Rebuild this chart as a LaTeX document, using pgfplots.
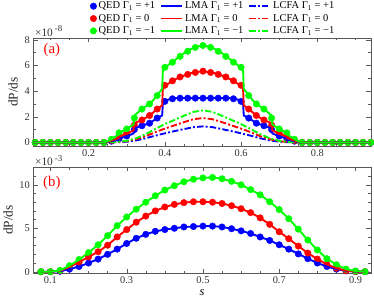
\documentclass[border=0pt]{standalone}
\usepackage{fontspec}
\setmainfont{Liberation Serif}
\usepackage{pgfplots}
\pgfplotsset{compat=1.18}
\usepackage{pgfplotstable}
\definecolor{qblue}{RGB}{0,0,255}
\definecolor{qred}{RGB}{255,0,0}
\definecolor{qgreen}{RGB}{0,255,0}

% ---------------- panel (a) ----------------
\pgfplotstableread{
s g r b
0.06 0 0 0
0.08 0 0 0
0.10 0 0 0
0.12 0 0 0
0.14 0 0 0
0.16 0 0 0
0.18 0 0 0
0.20 0 0 0
0.22 0 0 0
0.24 0 0 0
0.26 0.25 0.15 0.1
0.28 0.75 0.45 0.3
0.30 1.05 0.7 0.5
0.32 1.9 1.35 1.0
0.34 2.6 1.75 1.3
0.36 3.0 2.1 1.5
0.38 3.65 2.6 1.9
0.40 5.85 4.45 3.2
0.42 6.25 4.8 3.4
0.44 6.7 5.1 3.45
0.46 7.1 5.3 3.45
0.48 7.4 5.45 3.45
0.50 7.55 5.55 3.45
0.52 7.4 5.45 3.45
0.54 7.1 5.3 3.45
0.56 6.7 5.1 3.45
0.58 6.25 4.8 3.4
0.60 5.85 4.45 3.2
0.62 3.65 2.6 1.9
0.64 3.0 2.1 1.5
0.66 2.6 1.75 1.3
0.68 1.9 1.35 1.0
0.70 1.05 0.7 0.5
0.72 0.75 0.45 0.3
0.74 0.25 0.15 0.1
0.76 0 0 0
0.78 0 0 0
0.80 0 0 0
0.82 0 0 0
0.84 0 0 0
0.86 0 0 0
0.88 0 0 0
0.90 0 0 0
0.92 0 0 0
0.94 0 0 0
}\qeda

\pgfplotstableread{
s g r b
0.055 0 0 0
0.24 0 0 0
0.25 0.1 0.07 0.05
0.26 0.25 0.15 0.1
0.27 0.45 0.25 0.16
0.278 0.6 0.33 0.22
0.28 0.75 0.45 0.3
0.29 0.9 0.57 0.4
0.30 1.05 0.7 0.5
0.31 1.25 0.83 0.6
0.318 1.4 0.95 0.7
0.32 2.1 1.5 1.1
0.33 2.35 1.62 1.2
0.34 2.6 1.75 1.3
0.35 2.8 1.92 1.4
0.36 3.0 2.1 1.5
0.37 3.3 2.35 1.7
0.38 3.7 2.6 1.9
0.39 4.05 2.82 2.05
0.393 4.2 2.9 2.1
0.395 5.7 4.3 3.1
0.41 6.05 4.6 3.35
0.43 6.5 4.95 3.45
0.45 6.95 5.2 3.45
0.47 7.3 5.4 3.45
0.49 7.5 5.5 3.45
0.50 7.55 5.55 3.45
0.51 7.5 5.5 3.45
0.53 7.3 5.4 3.45
0.55 6.95 5.2 3.45
0.57 6.5 4.95 3.45
0.59 6.05 4.6 3.35
0.605 5.7 4.3 3.1
0.607 4.2 2.9 2.1
0.61 4.05 2.82 2.05
0.62 3.7 2.6 1.9
0.63 3.3 2.35 1.7
0.64 3.0 2.1 1.5
0.65 2.8 1.92 1.4
0.66 2.6 1.75 1.3
0.67 2.35 1.62 1.2
0.68 2.1 1.5 1.1
0.682 1.4 0.95 0.7
0.69 1.25 0.83 0.6
0.70 1.05 0.7 0.5
0.71 0.9 0.57 0.4
0.72 0.75 0.45 0.3
0.722 0.6 0.33 0.22
0.73 0.45 0.25 0.16
0.74 0.25 0.15 0.1
0.75 0.1 0.07 0.05
0.76 0 0 0
0.94 0 0 0
}\lmaa

\pgfplotstableread{
s g r b
0.055 0 0 0
0.25 0 0 0
0.275 0.04 0.03 0.02
0.30 0.13 0.1 0.06
0.325 0.33 0.25 0.16
0.35 0.65 0.49 0.33
0.375 1.05 0.8 0.53
0.40 1.43 1.08 0.71
0.425 1.75 1.33 0.88
0.45 2.08 1.58 1.04
0.475 2.38 1.81 1.19
0.50 2.5 1.9 1.25
0.525 2.38 1.81 1.19
0.55 2.08 1.58 1.04
0.575 1.75 1.33 0.88
0.60 1.43 1.08 0.71
0.625 1.05 0.8 0.53
0.65 0.65 0.49 0.33
0.675 0.33 0.25 0.16
0.70 0.13 0.1 0.06
0.725 0.04 0.03 0.02
0.75 0 0 0
0.94 0 0 0
}\lcfaa

% ---------------- panel (b) ----------------
\pgfplotstableread{
s g r b
0.075 0 0 0
0.100 0 0 0
0.125 0.15 0.1 0.05
0.150 0.7 0.55 0.3
0.175 1.4 1.1 0.6
0.200 2.2 1.7 1.0
0.225 3.1 2.3 1.45
0.250 4.15 3.05 2.0
0.275 5.3 4.0 2.6
0.300 6.3 4.85 3.25
0.325 7.2 5.7 3.85
0.350 8.0 6.4 4.3
0.375 8.75 7.0 4.65
0.400 9.4 7.45 4.85
0.425 9.9 7.75 5.0
0.450 10.35 7.95 5.15
0.475 10.65 8.05 5.2
0.500 10.8 8.05 5.25
0.525 10.85 8.0 5.25
0.550 10.7 7.85 5.15
0.575 10.4 7.6 4.95
0.600 10.0 7.25 4.7
0.625 9.45 6.8 4.4
0.650 8.85 6.2 4.0
0.675 8.05 5.45 3.6
0.700 7.15 4.6 3.1
0.725 6.1 3.8 2.6
0.750 4.9 2.95 2.05
0.775 3.65 2.15 1.5
0.800 2.5 1.45 1.0
0.825 1.5 0.85 0.6
0.850 0.8 0.4 0.3
0.875 0.3 0.12 0.1
0.900 0.08 0.02 0.02
0.925 0 0 0
}\qedb

\pgfplotsset{
  panel/.style={
    scale only axis, width=342pt,
    xmin=0.055, xmax=0.94,
    axis line style={black!65},
    every tick/.style={black!65},
    major tick length=4.5pt, minor tick length=2.5pt,
    tick label style={font=\fontsize{10.5}{12}\selectfont, text=black!80},
    /pgf/number format/assume math mode=true,
    ylabel={dP/ds},
    ylabel style={font=\fontsize{13.5}{14}\selectfont, text=black!85},
    clip mode=individual,
  },
  qed/.style={only marks, mark=*, mark size=3.3pt, mark options={solid}},
  lma/.style={no marks, line width=1.9pt},
  lcfa/.style={no marks, line width=1.9pt, dash pattern=on 6.5pt off 2.2pt on 2pt off 2.2pt},
  qedleg/.style={qed, legend image code/.code={\draw[##1] plot coordinates {(0.3cm,0cm)};}},
  lineleg/.style={legend image code/.code={\draw[##1] plot coordinates {(0cm,0cm) (0.75cm,0cm)};}},
}

\begin{document}
\begin{tikzpicture}
% ---------- top panel (a) ----------
\begin{axis}[panel,
  at={(0,128.4pt)}, anchor=south west,
  height=110pt,
  ymin=-0.3, ymax=8.15,
  xtick={0.2,0.4,0.6,0.8},
  minor xtick={0.1,0.15,0.25,0.3,0.35,0.45,0.5,0.55,0.65,0.7,0.75,0.85,0.9},
  ytick={0,2,4,6,8},
  minor ytick={1,3,5,7},
  xticklabels={0.2,0.4,0.6,0.8},
  yticklabels={0,2,4,6,8},
  legend columns=3,
  legend cell align=left,
  legend style={draw=none, fill=none, at={(0.168,1.0)}, anchor=south west,
    yshift=0.5pt, inner sep=0pt,
    font=\fontsize{10.6}{11}\selectfont,
    /tikz/every even column/.append style={column sep=3pt},
    row sep=0pt},
]
\addplot[qed, qblue, forget plot] table[x=s,y=b] {\qeda};
\addplot[qed, qred, forget plot] table[x=s,y=r] {\qeda};
\addplot[qed, qgreen, forget plot] table[x=s,y=g] {\qeda};
\addplot[lcfa, qblue, forget plot] table[x=s,y=b] {\lcfaa};
\addplot[lcfa, qred, forget plot] table[x=s,y=r] {\lcfaa};
\addplot[lcfa, qgreen, forget plot] table[x=s,y=g] {\lcfaa};
\addplot[lma, qblue, forget plot] table[x=s,y=b] {\lmaa};
\addplot[lma, qred, forget plot] table[x=s,y=r] {\lmaa};
\addplot[lma, qgreen, forget plot] table[x=s,y=g] {\lmaa};

\addlegendimage{qedleg, qblue}
\addlegendentry{QED Γ\textsubscript{1} = +1}
\addlegendimage{lineleg, lma, qblue}
\addlegendentry{LMA Γ\textsubscript{1} = +1}
\addlegendimage{lineleg, lcfa, qblue}
\addlegendentry{LCFA Γ\textsubscript{1} = +1}
\addlegendimage{qedleg, qred}
\addlegendentry{QED Γ\textsubscript{1} = 0}
\addlegendimage{lineleg, lma, qred}
\addlegendentry{LMA Γ\textsubscript{1} = 0}
\addlegendimage{lineleg, lcfa, qred}
\addlegendentry{LCFA Γ\textsubscript{1} = 0}
\addlegendimage{qedleg, qgreen}
\addlegendentry{QED Γ\textsubscript{1} = −1}
\addlegendimage{lineleg, lma, qgreen}
\addlegendentry{LMA Γ\textsubscript{1} = −1}
\addlegendimage{lineleg, lcfa, qgreen}
\addlegendentry{LCFA Γ\textsubscript{1} = −1}

\node[text=qred, font=\fontsize{15}{16}\selectfont] at (rel axis cs:0.055,0.885) {(a)};
\node[anchor=south west, inner sep=0pt, font=\fontsize{11.5}{12}\selectfont, text=black!80] at (rel axis cs:0.005,1.012) {×10\,\raisebox{4.5pt}{\fontsize{9}{10}\selectfont -8}};
\end{axis}

% ---------- bottom panel (b) ----------
\begin{axis}[panel,
  at={(0,0)}, anchor=south west,
  height=107.4pt,
  ymin=-0.15, ymax=12.05,
  xtick={0.1,0.3,0.5,0.7,0.9},
  xticklabels={0.1,0.3,0.5,0.7,0.9},
  minor xtick={0.15,0.2,0.25,0.35,0.4,0.45,0.55,0.6,0.65,0.75,0.8,0.85},
  ytick={0,5,10},
  yticklabels={0,5,10},
  minor ytick={1,2,3,4,6,7,8,9,11},
  xlabel={\textit{s}},
  xlabel style={font=\fontsize{12.5}{13}\selectfont, yshift=1pt},
]
\addplot[qed, qblue] table[x=s,y=b] {\qedb};
\addplot[qed, qred] table[x=s,y=r] {\qedb};
\addplot[qed, qgreen] table[x=s,y=g] {\qedb};
\addplot[lma, qblue] table[x=s,y=b] {\qedb};
\addplot[lma, qred] table[x=s,y=r] {\qedb};
\addplot[lma, qgreen] table[x=s,y=g] {\qedb};
\node[text=qred, font=\fontsize{15}{16}\selectfont] at (rel axis cs:0.055,0.85) {(b)};
\node[anchor=south west, inner sep=0pt, font=\fontsize{11.5}{12}\selectfont, text=black!80] at (rel axis cs:0.005,1.012) {×10\,\raisebox{4.5pt}{\fontsize{9}{10}\selectfont -3}};
\end{axis}
\end{tikzpicture}
\end{document}
